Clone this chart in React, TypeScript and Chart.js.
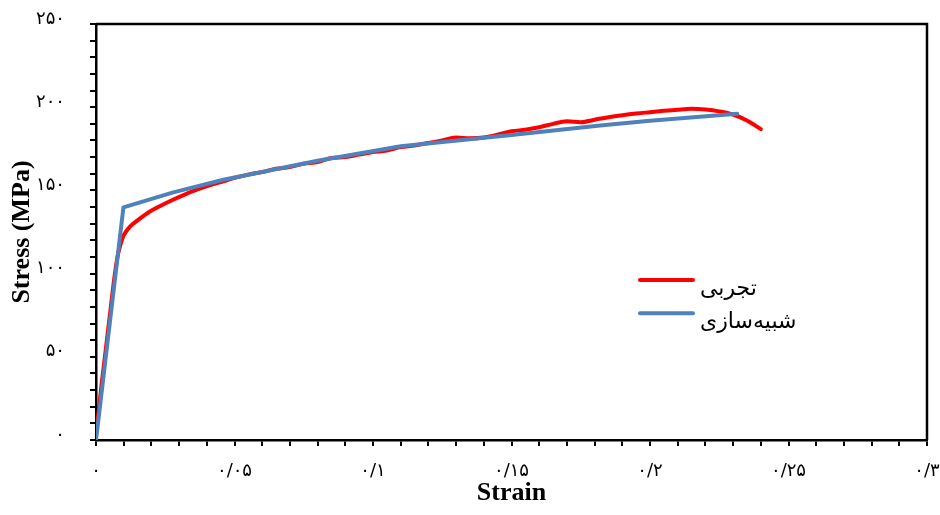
import React, { useEffect, useRef } from 'react';
import { Chart, registerables } from 'chart.js';

Chart.register(...registerables);

// Experimental curve (تجربی)
const experimentalStrain = [
  0, 0.001, 0.002, 0.003, 0.004, 0.005, 0.006, 0.007, 0.008, 0.009, 0.01, 0.0123, 0.015, 0.0188,
  0.023, 0.0278, 0.032, 0.0364, 0.041, 0.046, 0.05, 0.055, 0.06, 0.065, 0.07, 0.075, 0.08, 0.085,
  0.09, 0.095, 0.1, 0.105, 0.11, 0.115, 0.12, 0.125, 0.13, 0.135, 0.14, 0.145, 0.15, 0.155, 0.16,
  0.165, 0.17, 0.175, 0.18, 0.185, 0.19, 0.195, 0.2, 0.205, 0.21, 0.215, 0.22, 0.225, 0.23, 0.235,
  0.24,
];
const experimentalStress = [
  3, 18, 33, 47, 61, 75, 89, 102, 112, 118.5, 123, 128.3, 132, 136.6,
  140.5, 144.4, 147.5, 150.4, 153, 155.4, 157.5, 159.5, 161, 163, 164, 166, 167, 169.5,
  170, 171.5, 173, 174, 176, 177, 178.5, 180, 181.8, 181.3, 181.8, 183.5, 185.5, 186.5, 188,
  190, 191.5, 191, 192.5, 194, 195.2, 196.2, 197, 197.8, 198.5, 199, 198.6, 197.5, 195.6, 192,
  186.8,
];

// Simulation curve (شبیه‌سازی)
const simulationStrain = [0, 0.0099, 0.0279, 0.046, 0.08, 0.11, 0.15, 0.182, 0.2, 0.2315];
const simulationStress = [0, 139.8, 148.8, 156.4, 167.8, 176.5, 183.3, 189, 191.8, 196];

const seriesNames = ['تجربی', 'شبیه‌سازی'];
const seriesColors = ['#FF0000', '#4F81BD'];

const xTickLabels = ['۰', '۰/۰۵', '۰/۱', '۰/۱۵', '۰/۲', '۰/۲۵', '۰/۳'];
const yTickLabels = ['۰', '۵۰', '۱۰۰', '۱۵۰', '۲۰۰', '۲۵۰'];

const xTitle = 'Strain';
const yTitle = 'Stress (MPa)';

export default function App() {
  const ref = useRef<HTMLCanvasElement>(null);

  useEffect(() => {
    const canvas = ref.current;
    if (!canvas) return;

    const framePlugin = {
      id: 'frame',
      afterDraw(chart: any) {
        const { ctx, chartArea: a } = chart;
        ctx.save();
        ctx.strokeStyle = '#000';
        ctx.lineWidth = 2.5;
        ctx.beginPath();
        ctx.moveTo(a.left, a.top);
        ctx.lineTo(a.right, a.top);
        ctx.lineTo(a.right, a.bottom);
        ctx.stroke();
        ctx.restore();
      },
    };

    const legendPlugin = {
      id: 'innerLegend',
      afterDraw(chart: any) {
        const { ctx, chartArea: a } = chart;
        const w = a.right - a.left;
        const h = a.bottom - a.top;
        const x0 = a.left + w * 0.6546;
        const x1 = a.left + w * 0.7184;
        const tx = a.left + w * 0.7268;
        const rowsY = [a.top + h * 0.6154, a.top + h * 0.6955];
        ctx.save();
        seriesNames.forEach((name, i) => {
          const y = rowsY[i];
          ctx.strokeStyle = seriesColors[i];
          ctx.lineWidth = 4;
          ctx.lineCap = 'round';
          ctx.beginPath();
          ctx.moveTo(x0, y);
          ctx.lineTo(x1, y);
          ctx.stroke();
          ctx.fillStyle = '#000';
          ctx.font = '22px "DejaVu Sans"';
          ctx.textAlign = 'left';
          ctx.textBaseline = 'alphabetic';
          ctx.fillText(name, tx, y + 15);
        });
        ctx.restore();
      },
    };

    const chart = new Chart(canvas, {
      type: 'line',
      data: {
        datasets: [
          {
            label: seriesNames[0],
            data: experimentalStrain.map((x, i) => ({ x, y: experimentalStress[i] })),
            borderColor: seriesColors[0],
            backgroundColor: seriesColors[0],
            borderWidth: 4,
            pointRadius: 0,
            cubicInterpolationMode: 'monotone',
            borderCapStyle: 'round',
            borderJoinStyle: 'round',
            fill: false,
            order: 2,
          },
          {
            label: seriesNames[1],
            data: simulationStrain.map((x, i) => ({ x, y: simulationStress[i] })),
            borderColor: seriesColors[1],
            backgroundColor: seriesColors[1],
            borderWidth: 4,
            pointRadius: 0,
            tension: 0,
            borderCapStyle: 'round',
            borderJoinStyle: 'round',
            fill: false,
            order: 1,
          },
        ],
      },
      options: {
        animation: false,
        responsive: false,
        devicePixelRatio: 1,
        layout: { padding: { left: 0, right: 33, top: 24, bottom: 0 } },
        plugins: {
          legend: { display: false },
          tooltip: { enabled: false },
        },
        scales: {
          x: {
            type: 'linear',
            min: 0,
            max: 0.3,
            afterFit: (scale: any) => {
              scale.height = 75;
              scale.paddingLeft = 0;
              scale.paddingRight = 0;
            },
            ticks: {
              stepSize: 0.01,
              autoSkip: false,
              maxRotation: 0,
              minRotation: 0,
              padding: 15,
              color: '#000',
              font: { family: '"DejaVu Sans"', size: 18 },
              callback: (v: any) => {
                const k = Math.round(Number(v) * 100);
                return k % 5 === 0 ? xTickLabels[k / 5] : '';
              },
            },
            grid: {
              display: true,
              drawOnChartArea: false,
              drawTicks: true,
              tickLength: 6,
              color: '#000',
              lineWidth: 2,
            },
            border: { display: true, color: '#000', width: 2.5 },
            title: {
              display: true,
              text: xTitle,
              color: '#000',
              font: { family: '"Liberation Serif"', size: 26, weight: 'bold' },
              padding: { top: 0, bottom: 6 },
            },
          },
          y: {
            type: 'linear',
            min: 0,
            max: 250,
            afterFit: (scale: any) => {
              scale.width = 96;
              scale.paddingTop = 0;
              scale.paddingBottom = 0;
            },
            ticks: {
              stepSize: 10,
              autoSkip: false,
              padding: 25,
              labelOffset: -5,
              color: '#000',
              font: { family: '"DejaVu Sans"', size: 18 },
              callback: (v: any) => {
                const n = Math.round(Number(v));
                return n % 50 === 0 ? yTickLabels[n / 50] : '';
              },
            },
            grid: {
              display: true,
              drawOnChartArea: false,
              drawTicks: true,
              tickLength: 6,
              color: '#000',
              lineWidth: 2,
            },
            border: { display: true, color: '#000', width: 2.5 },
            title: {
              display: true,
              text: yTitle,
              color: '#000',
              font: { family: '"Liberation Serif"', size: 26, weight: 'bold' },
              padding: { top: 7, bottom: 0 },
            },
          },
        },
      },
      plugins: [framePlugin, legendPlugin],
    } as any);

    return () => chart.destroy();
  }, []);

  return (
    <div
      style={{
        position: 'fixed',
        left: 0,
        top: 0,
        width: 940,
        height: 515,
        overflow: 'hidden',
        background: '#fff',
      }}
    >
      <canvas ref={ref} width={960} height={515} style={{ display: 'block' }} />
    </div>
  );
}
